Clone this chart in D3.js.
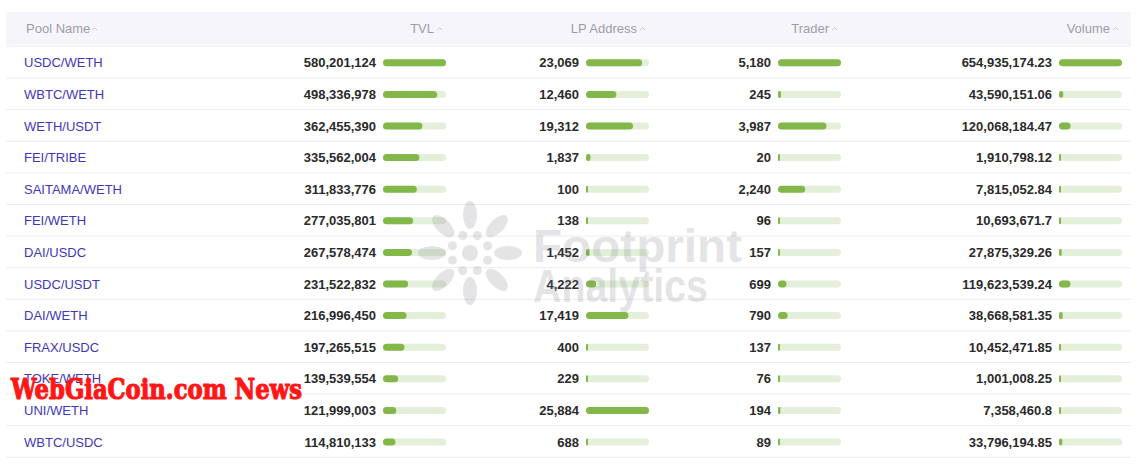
<!DOCTYPE html>
<html>
<head>
<meta charset="utf-8">
<script src="https://cdn.jsdelivr.net/npm/d3@7"></script>
<style>
  html, body { margin: 0; padding: 0; background: #fff; }
  svg { display: block; font-family: "Liberation Sans", Arial, sans-serif; }
</style>
</head>
<body>
<div id="pool-table"></div>
<script>
const pools = ["USDC/WETH", "WBTC/WETH", "WETH/USDT", "FEI/TRIBE", "SAITAMA/WETH", "FEI/WETH",
  "DAI/USDC", "USDC/USDT", "DAI/WETH", "FRAX/USDC", "TOKE/WETH", "UNI/WETH", "WBTC/USDC"];
const tvl = [580201124, 498336978, 362455390, 335562004, 311833776, 277035801,
  267578474, 231522832, 216996450, 197265515, 139539554, 121999003, 114810133];
const lpAddress = [23069, 12460, 19312, 1837, 100, 138, 1452, 4222, 17419, 400, 229, 25884, 688];
const trader = [5180, 245, 3987, 20, 2240, 96, 157, 699, 790, 137, 76, 194, 89];
const volume = [654935174.23, 43590151.06, 120068184.47, 1910798.12, 7815052.84, 10693671.7,
  27875329.26, 119623539.24, 38668581.35, 10452471.85, 1001008.25, 7358460.8, 33796194.85];
const headers = ["Pool Name", "TVL", "LP Address", "Trader", "Volume"];

const W = 1144, H = 471;
const tableLeft = 6, tableRight = 1131;
const headTop = 12, headBottom = 47;
const rowH = 31.6;
const barW = 63, barH = 7;

// where each numeric column puts its bar
const columns = [
  { name: headers[1], values: tvl, barX: 383 },
  { name: headers[2], values: lpAddress, barX: 586 },
  { name: headers[3], values: trader, barX: 778 },
  { name: headers[4], values: volume, barX: 1059 }
];

const fmt = d3.format(",");

const svg = d3.select("#pool-table").append("svg")
  .attr("width", W)
  .attr("height", H);

const yScale = d3.scaleBand()
  .domain(pools)
  .range([headBottom, headBottom + rowH * pools.length])
  .padding(0);

// HEADER
svg.append("rect")
  .attr("x", tableLeft).attr("y", headTop)
  .attr("width", tableRight - tableLeft).attr("height", headBottom - headTop)
  .attr("fill", "#f6f6fa");

const headY = 28;

function caret(x) {
  svg.append("path")
    .attr("d", `M${x},${headY + 2} L${x + 2.5},${headY - 0.5} L${x + 5},${headY + 2}`)
    .attr("fill", "none")
    .attr("stroke", "#c8c9d2")
    .attr("stroke-width", 1);
}

svg.append("text")
  .attr("x", 26).attr("y", headY)
  .attr("dy", "0.35em")
  .attr("font-size", 13)
  .attr("fill", "#9b9daa")
  .text(headers[0]);
caret(92);

columns.forEach(col => {
  const end = col.barX + barW;
  svg.append("text")
    .attr("x", end - 12).attr("y", headY)
    .attr("dy", "0.35em")
    .attr("text-anchor", "end")
    .attr("font-size", 13)
    .attr("fill", "#9b9daa")
    .text(col.name);
  caret(end - 9);
});

// ROWS
const rows = svg.selectAll(".row")
  .data(pools)
  .enter()
  .append("g")
  .attr("class", "row")
  .attr("transform", d => `translate(0,${yScale(d)})`);

rows.append("line")
  .attr("x1", tableLeft).attr("x2", tableRight)
  .attr("y1", yScale.bandwidth() - 0.5).attr("y2", yScale.bandwidth() - 0.5)
  .attr("stroke", "#ececf0");

const cy = yScale.bandwidth() / 2;

rows.append("text")
  .attr("x", 24).attr("y", cy)
  .attr("dy", "0.35em")
  .attr("font-size", 13)
  .attr("fill", "#3f37b8")
  .text(d => d);

columns.forEach(col => {
  const xScale = d3.scaleLinear()
    .domain([0, d3.max(col.values)])
    .range([0, barW]);

  rows.append("text")
    .attr("x", col.barX - 7).attr("y", cy)
    .attr("dy", "0.35em")
    .attr("text-anchor", "end")
    .attr("font-size", 13)
    .attr("font-weight", "bold")
    .attr("fill", "#2a2a2a")
    .text((d, i) => fmt(col.values[i]));

  rows.append("rect")
    .attr("x", col.barX).attr("y", cy - barH / 2)
    .attr("width", barW).attr("height", barH)
    .attr("rx", barH / 2)
    .attr("fill", "#e3efd8");

  rows.append("rect")
    .attr("x", col.barX).attr("y", cy - barH / 2)
    .attr("width", (d, i) => Math.max(2, xScale(col.values[i])))
    .attr("height", barH)
    .attr("rx", (d, i) => Math.min(barH / 2, Math.max(2, xScale(col.values[i])) / 2))
    .attr("fill", "#83b74a");
});

// WATERMARKS
const wm = svg.append("g")
  .attr("fill", "#878a94")
  .attr("opacity", 0.22);

const lx = 470, ly = 253;
wm.append("circle").attr("cx", lx).attr("cy", ly).attr("r", 8);
d3.range(8).forEach(k => {
  const a = k * Math.PI / 4 + Math.PI / 8;
  wm.append("circle")
    .attr("cx", lx + Math.cos(a) * 19)
    .attr("cy", ly + Math.sin(a) * 19)
    .attr("r", 4.5);
  wm.append("ellipse")
    .attr("cx", 0).attr("cy", 0)
    .attr("rx", 7).attr("ry", 14)
    .attr("transform", `translate(${lx + Math.cos(a + Math.PI / 8) * 38},${ly + Math.sin(a + Math.PI / 8) * 38}) rotate(${(a + Math.PI / 8) * 180 / Math.PI + 90})`);
});

wm.append("text")
  .attr("x", 533).attr("y", 262)
  .attr("font-size", 46)
  .attr("font-weight", "bold")
  .attr("textLength", 209)
  .attr("lengthAdjust", "spacingAndGlyphs")
  .text("Footprint");
wm.append("text")
  .attr("x", 533).attr("y", 302)
  .attr("font-size", 46)
  .attr("font-weight", "bold")
  .attr("textLength", 175)
  .attr("lengthAdjust", "spacingAndGlyphs")
  .text("Analytics");

svg.append("text")
  .attr("x", 11).attr("y", 399)
  .attr("font-family", "'DejaVu Serif', serif")
  .attr("font-weight", "bold")
  .attr("font-size", 28)
  .attr("textLength", 291)
  .attr("lengthAdjust", "spacingAndGlyphs")
  .attr("fill", "#ff1616")
  .attr("stroke", "#ff1616")
  .attr("stroke-width", 1.2)
  .text("WebGiaCoin.com News");
</script>
</body>
</html>
